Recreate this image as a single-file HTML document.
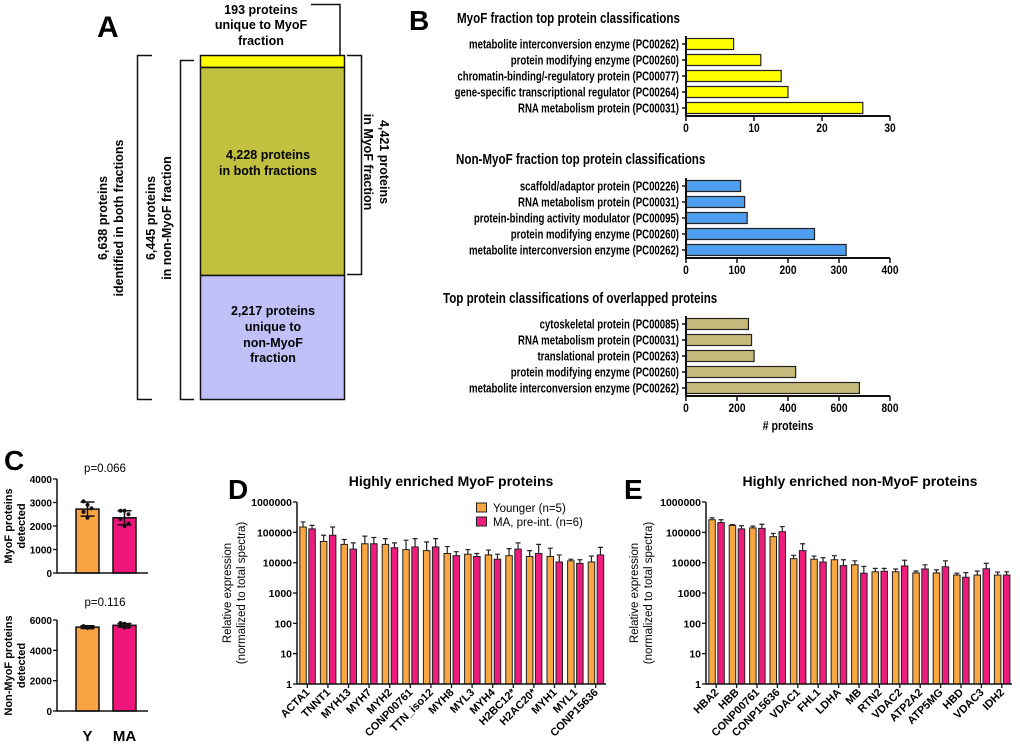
<!DOCTYPE html>
<html><head><meta charset="utf-8"><style>
html,body{margin:0;padding:0;background:#fff}
svg{display:block;font-family:"Liberation Sans",Arial,sans-serif}
</style></head><body>
<svg id="fig" width="1020" height="746" viewBox="0 0 1020 746" xmlns="http://www.w3.org/2000/svg">
<!-- Panel A -->
<g font-weight="bold" font-size="12.5">
  <text x="97" y="37" font-size="30">A</text>
  <rect x="200.5" y="55.5" width="144" height="12" fill="#ffff00" stroke="#111" stroke-width="1.5"/>
  <rect x="200.5" y="67.5" width="144" height="208" fill="#c1c03f" stroke="#111" stroke-width="1.5"/>
  <rect x="200.5" y="275.5" width="144" height="124" fill="#c0c0f8" stroke="#111" stroke-width="1.5"/>
  <path d="M311 4.5H340V55" fill="none" stroke="#111" stroke-width="1.5"/>
  <path d="M152 55.5H137.5V399.5H152" fill="none" stroke="#111" stroke-width="1.5"/>
  <path d="M194 60.5H180.5V399.5H194" fill="none" stroke="#111" stroke-width="1.5"/>
  <path d="M347 55.5H361.5V274.5H347" fill="none" stroke="#111" stroke-width="1.5"/>
  <g text-anchor="middle">
    <text x="261" y="14">193 proteins</text><text x="261" y="29">unique to MyoF</text><text x="261" y="45">fraction</text>
  </g>
  <g text-anchor="middle">
    <text x="268" y="159">4,228 proteins</text><text x="268" y="175">in both fractions</text>
  </g>
  <g text-anchor="middle">
    <text x="273" y="315">2,217 proteins</text><text x="273" y="331">unique to</text><text x="273" y="347">non-MyoF</text><text x="273" y="362">fraction</text>
  </g>
  <g text-anchor="middle" transform="translate(110,218) rotate(-90)">
    <text x="0" y="-3">6,638 proteins</text><text x="0" y="13">identified in both fractions</text>
  </g>
  <g text-anchor="middle" transform="translate(158,218) rotate(-90)">
    <text x="0" y="-3">6,445 proteins</text><text x="0" y="13">in non-MyoF fraction</text>
  </g>
  <g text-anchor="middle" transform="translate(377,162) rotate(90)">
    <text x="0" y="-3">4,421 proteins</text><text x="0" y="13">in MyoF fraction</text>
  </g>
</g>
<text x="409" y="30" font-size="28" font-weight="bold">B</text>
<text x="4" y="470" font-size="28" font-weight="bold">C</text>
<text x="228" y="499" font-size="28" font-weight="bold">D</text>
<text x="624" y="499" font-size="28" font-weight="bold">E</text>
<g id="gB"></g><g id="gC"></g><g id="gD"></g><g id="gE"></g>
</svg>
<script>
// ---- Panel B data ----
const bCats1 = ["metabolite interconversion enzyme (PC00262)","protein modifying enzyme (PC00260)","chromatin-binding/-regulatory protein (PC00077)","gene-specific transcriptional regulator (PC00264)","RNA metabolism protein (PC00031)"];
const bVals1 = [7,11,14,15,26];
const bTicks1 = [0,10,20,30];
const bCats2 = ["scaffold/adaptor protein (PC00226)","RNA metabolism protein (PC00031)","protein-binding activity modulator (PC00095)","protein modifying enzyme (PC00260)","metabolite interconversion enzyme (PC00262)"];
const bVals2 = [107,115,120,252,314];
const bTicks2 = [0,100,200,300,400];
const bCats3 = ["cytoskeletal protein (PC00085)","RNA metabolism protein (PC00031)","translational protein (PC00263)","protein modifying enzyme (PC00260)","metabolite interconversion enzyme (PC00262)"];
const bVals3 = [245,257,267,430,680];
const bTicks3 = [0,200,400,600,800];
// ---- Panel C data ----
const cGroups = ["Y","MA"];
const cMyoF = [2720,2350];
const cMyoFSd = [300,300];
const cMyoFPtsY = [3050,2900,2750,2600,2350];
const cMyoFPtsMA = [2650,2650,2500,2300,2000,2100];
const cMyoFTicks = [0,1000,2000,3000,4000];
const cNon = [5530,5650];
const cNonSd = [90,120];
const cNonPtsY = [5600,5550,5500,5530,5480];
const cNonPtsMA = [5800,5750,5650,5600,5500,5550];
const cNonTicks = [0,2000,4000,6000];
// ---- Panel D data ----
const dCats = ["ACTA1","TNNT1","MYH13","MYH7","MYH2","CONP00761","TTN_iso12","MYH8","MYL3","MYH4","H2BC12*","H2AC20*","MYH1","MYL1","CONP15636"];
const dYoung = [150000,50000,40000,42000,40000,27000,25000,20000,19000,18000,17000,16000,16000,11500,10500];
const dYoungErr = [220000,80000,58000,75000,62000,55000,48000,34000,27000,26000,29000,25000,30000,13000,16500];
const dMA = [130000,80000,28000,42000,31000,33000,33000,17000,16000,13000,28000,20000,10500,9500,18000];
const dMAErr = [170000,150000,45000,68000,45000,62000,62000,23000,20000,19000,45000,40000,18000,12500,32000];
// ---- Panel E data ----
const eCats = ["HBA2","HBB","CONP00761","CONP15636","VDAC1","FHL1","LDHA","MB","RTN2","VDAC2","ATP2A2","ATP5MG","HBD","VDAC3","IDH2"];
const eYoung = [260000,170000,140000,72000,13500,13000,12500,8500,5000,5000,4600,4600,3900,3900,3900];
const eYoungErr = [300000,180000,160000,92000,17500,16500,17000,11500,6500,6200,5300,5800,4500,5300,4900];
const eMA = [210000,130000,135000,105000,25000,10500,8000,4500,5200,7800,6200,7300,3300,6300,3900];
const eMAErr = [260000,165000,185000,155000,42000,14500,12500,7500,6500,12000,8500,11500,4700,9500,5000];
const logTicks = [1,10,100,1000,10000,100000,1000000];
const logTickLabels = ["1","10","100","1000","10000","100000","1000000"];

const NS="http://www.w3.org/2000/svg";
function mk(parent, tag, attrs, txt){const e=document.createElementNS(NS,tag);for(const k in attrs)e.setAttribute(k,attrs[k]);if(txt!==undefined)e.textContent=txt;parent.appendChild(e);return e;}

// ---- Panel B ----
function barH(gid, name, title, titleX, titleY, cats, vals, ticks, x0, x1, yTop, yAxis, color, xlabel){
  const g=document.getElementById(gid);
  const max=ticks[ticks.length-1];
  const sx=v=>x0+(x1-x0)*v/max;
  let t=mk(g,'text',{x:titleX,y:titleY,'font-size':14.5,'font-weight':'bold',transform:`translate(${titleX},0) scale(0.8,1) translate(${-titleX},0)`},title);
  
  
  const step=(yAxis-yTop)/cats.length;
  cats.forEach((c,i)=>{
    const cy=yTop+step*(i+0.5);
    const r=mk(g,'rect',{x:x0,y:cy-5.5,width:sx(vals[i])-x0,height:11,fill:color,stroke:'#222','stroke-width':1.2});
    
    
    const tk=mk(g,'line',{x1:x0-4,x2:x0,y1:cy,y2:cy,stroke:'#111','stroke-width':1.5});
    
    
    const l=mk(g,'text',{x:0,y:0,'font-size':12.5,'font-weight':'bold','text-anchor':'end',transform:`translate(${x0-7},${cy+4.5}) scale(0.77,1)`},c);
    
    
  });
  const ax=mk(g,'path',{d:`M${x0} ${yTop}V${yAxis}H${x1}`,fill:'none',stroke:'#111','stroke-width':2});
  
  
  ticks.forEach(v=>{
    const tk=mk(g,'line',{x1:sx(v),x2:sx(v),y1:yAxis,y2:yAxis+5,stroke:'#111','stroke-width':1.5});
    
    
    const l=mk(g,'text',{x:0,y:0,'font-size':12,'font-weight':'bold','text-anchor':'middle',transform:`translate(${sx(v)},${yAxis+16}) scale(0.85,1)`},String(v));
    
    
  });
  if(xlabel){
    const l=mk(g,'text',{x:0,y:0,'font-size':12.5,'font-weight':'bold','text-anchor':'middle',transform:`translate(${(x0+x1)/2},${yAxis+34}) scale(0.85,1)`},xlabel);
    
    
  }
}
barH('gB','myof-classes','MyoF fraction top protein classifications',457,23,bCats1,bVals1,bTicks1,686,890,36,116,'#ffff00');
barH('gB','non-myof-classes','Non-MyoF fraction top protein classifications',456,164,bCats2,bVals2,bTicks2,686,890,178,258,'#4e9ff0');
barH('gB','overlap-classes','Top protein classifications of overlapped proteins',443,303,bCats3,bVals3,bTicks3,686,890,316,396,'#c6b97c','# proteins');

// ---- Panel C ----
function dotBar(name, vals, sds, ptsY, ptsMA, ticks, yTop, yBot, ptext, pY, ylab1, ylab2){
  const g=document.getElementById('gC');
  const max=ticks[ticks.length-1];
  const sy=v=>yBot-(yBot-yTop)*v/max;
  const xs=[76,113], w=23, cols=['#f9a343','#f0157a'];
  const pt=mk(g,'text',{x:105,y:pY,'font-size':11.5,'text-anchor':'middle'},ptext);
  
  
  vals.forEach((v,i)=>{
    const r=mk(g,'rect',{x:xs[i],y:sy(v),width:w,height:yBot-sy(v),fill:cols[i],stroke:'#111','stroke-width':1.5});
    
    
    const cx=xs[i]+w/2;
    const e=mk(g,'path',{d:`M${cx} ${sy(v+sds[i])}V${sy(v-sds[i])}M${cx-7} ${sy(v+sds[i])}H${cx+7}M${cx-7} ${sy(v-sds[i])}H${cx+7}`,stroke:'#111','stroke-width':1.5,fill:'none'});
    
    
    const pts=i===0?ptsY:ptsMA;
    pts.forEach((p,j)=>{
      const d=mk(g,'circle',{cx:cx+((j%3)-1)*4,cy:sy(p),r:2,fill:'#111'});
      
      
    });
  });
  const ax=mk(g,'path',{d:`M57 ${yTop}V${yBot}H148`,fill:'none',stroke:'#111','stroke-width':1.5});
  
  
  ticks.forEach(v=>{
    const tk=mk(g,'line',{x1:53,x2:57,y1:sy(v),y2:sy(v),stroke:'#111','stroke-width':1.3});
    
    
    const l=mk(g,'text',{x:52,y:sy(v)+4,'font-size':10,'font-weight':'bold','text-anchor':'end'},String(v));
    
    
  });
  const yl=mk(g,'text',{transform:`translate(12,${(yTop+yBot)/2}) rotate(-90)`,'font-size':11,'font-weight':'bold','text-anchor':'middle'});
  
  
  mk(yl,'tspan',{x:0,y:0},ylab1);
  mk(yl,'tspan',{x:0,y:13},ylab2);
}
dotBar('myof-count',cMyoF,cMyoFSd,cMyoFPtsY,cMyoFPtsMA,cMyoFTicks,479,573,'p=0.066',472,'MyoF proteins','detected');
dotBar('non-myof-count',cNon,cNonSd,cNonPtsY,cNonPtsMA,cNonTicks,620,711,'p=0.116',606,'Non-MyoF proteins','detected');
cGroups.forEach((gname,i)=>{
  const l=mk(document.getElementById('gC'),'text',{x:[87.5,124.5][i],y:741,'font-size':15,'font-weight':'bold','text-anchor':'middle'},gname);
  
  
});

// ---- Panels D & E ----
function logBars(gid, name, title, titleCx, cats, young, youngErr, ma, maErr, x0, x1, labX, legend){
  const g=document.getElementById(gid);
  const yTop=502, yBot=684;
  const sy=v=>yBot-(yBot-yTop)*Math.log10(v)/6;
  const t=mk(g,'text',{x:titleCx,y:486,'font-size':14,'font-weight':'bold','text-anchor':'middle'},title);
  
  
  const step=(x1-x0)/cats.length, bw=6.5;
  cats.forEach((c,i)=>{
    const gx=x0+step*i+2.8;
    [[young,youngErr,'#f8a742','younger'],[ma,maErr,'#ee1c7c','ma']].forEach((s,k)=>{
      const bx=gx+k*(bw+2.5);
      const r=mk(g,'rect',{x:bx,y:sy(s[0][i]),width:bw,height:yBot-sy(s[0][i]),fill:s[2],stroke:'#222','stroke-width':1});
      
      
      const cx=bx+bw/2;
      const e=mk(g,'path',{d:`M${cx} ${sy(s[0][i])}V${sy(s[1][i])}M${cx-2.5} ${sy(s[1][i])}H${cx+2.5}`,stroke:'#222','stroke-width':1.2,fill:'none'});
      
      
    });
    const tx=x0+step*(i+0.5);
    const tk=mk(g,'line',{x1:tx,x2:tx,y1:yBot,y2:yBot+4,stroke:'#111','stroke-width':1.3});
    
    
    const l=mk(g,'text',{transform:`translate(${tx+3},${yBot+9}) rotate(-45)`,'font-size':11,'font-weight':'bold','text-anchor':'end'},c);
    
    
  });
  const ax=mk(g,'path',{d:`M${x0} ${yTop}V${yBot}H${x1}`,fill:'none',stroke:'#111','stroke-width':1.5});
  
  
  logTicks.forEach((v,i)=>{
    const tk=mk(g,'line',{x1:x0-4,x2:x0,y1:sy(v),y2:sy(v),stroke:'#111','stroke-width':1.3});
    
    
    const l=mk(g,'text',{x:x0-5,y:sy(v)+4,'font-size':10.5,'font-weight':'bold','text-anchor':'end'},logTickLabels[i]);
    
    
  });
  const yl=mk(g,'text',{transform:`translate(${labX},593) rotate(-90)`,'font-size':11.5,'text-anchor':'middle'});
  
  
  mk(yl,'tspan',{x:0,y:0},'Relative expression');
  mk(yl,'tspan',{x:0,y:14},'(normalized to total spectra)');
  if(legend){
    [['Younger (n=5)','#f8a742',503],['MA, pre-int. (n=6)','#ee1c7c',517]].forEach(L=>{
      const b=mk(g,'rect',{x:476.5,y:L[2],width:10,height:9,fill:L[1],stroke:'#222','stroke-width':1});
      
      
      const lt=mk(g,'text',{x:493,y:L[2]+9,'font-size':11.5},L[0]);
      
      
    });
  }
}
logBars('gD','myof-enriched','Highly enriched MyoF proteins',451,dCats,dYoung,dYoungErr,dMA,dMAErr,297,606,231,true);
logBars('gE','non-myof-enriched','Highly enriched non-MyoF proteins',860,eCats,eYoung,eYoungErr,eMA,eMAErr,706,1012,638,false);
</script>
</body></html>
